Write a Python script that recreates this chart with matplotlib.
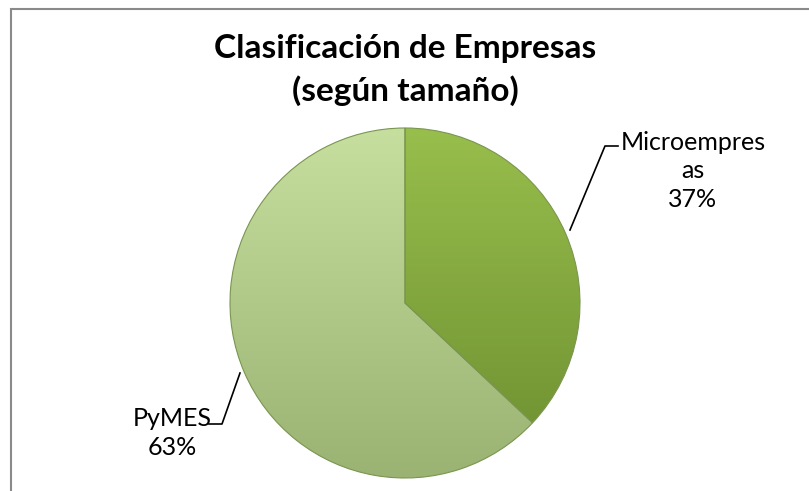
import numpy as np
import matplotlib
matplotlib.use("Agg")
import matplotlib.pyplot as plt
from matplotlib.colors import LinearSegmentedColormap
from matplotlib.patches import Rectangle

categories = ["Microempresas", "PyMES"]
values = [37, 63]
label_texts = ["Microempres\nas\n37%", "PyMES\n63%"]
title_text = "Clasificación de Empresas\n(según tamaño)"

top_colors = ["#98be4c", "#c6df9f"]
bottom_colors = ["#6c8e30", "#9ab272"]

W, H = 809, 491
fig = plt.figure(figsize=(W / 100, H / 100), dpi=100)
fig.patch.set_facecolor("white")

# outer chart border
fig.add_artist(Rectangle((11 / W, -0.1), 1.0, (H - 9) / H + 0.1,
                         transform=fig.transFigure, fill=False,
                         edgecolor="#8a8a8a", linewidth=1.5))

cx, cy, r = 405, 303, 175
ax = fig.add_axes([(cx - r) / W, (H - cy - r) / H, 2 * r / W, 2 * r / H])
ax.set_xlim(-1, 1)
ax.set_ylim(-1, 1)
ax.set_aspect("equal")
ax.axis("off")

wedges, _ = ax.pie(values, startangle=90, counterclock=False, radius=1.0,
                   colors=top_colors,
                   wedgeprops=dict(linewidth=0.8, edgecolor="#7a9550"))

grad = np.linspace(0, 1, 256).reshape(-1, 1)
for w, c0, c1 in zip(wedges, top_colors, bottom_colors):
    cmap = LinearSegmentedColormap.from_list("g", [c0, c1])
    im = ax.imshow(grad, cmap=cmap, extent=[-1, 1, -1, 1], origin="upper",
                   aspect="auto", zorder=w.get_zorder() + 0.1)
    im.set_clip_path(w)
    w.set_zorder(w.get_zorder() + 0.2)
    w.set_facecolor("none")
ax.set_xlim(-1, 1)
ax.set_ylim(-1, 1)

def d(px, py):
    return ((px - cx) / r, (cy - py) / r)

font = ["Lato", "DejaVu Sans"]

# leader lines
for pts in ([(618, 146), (605, 146), (570, 230)],
            [(209, 424), (222, 424), (240, 373)]):
    xs, ys = zip(*[d(*p) for p in pts])
    ax.plot(xs, ys, color="black", linewidth=1.2, clip_on=False, zorder=5)

lx, ly = d(693, 171)
ax.text(lx, ly, label_texts[0], ha="center", va="center", fontsize=18,
        family=font, linespacing=1.3, clip_on=False)
lx, ly = d(172, 433)
ax.text(lx, ly, label_texts[1], ha="center", va="center", fontsize=18,
        family=font, linespacing=1.3, clip_on=False)

fig.text(405 / W, 1 - 70 / H, title_text, ha="center", va="center",
         fontsize=24, fontweight="bold", family=font, linespacing=1.45)

fig.savefig("out.png", dpi=100, facecolor="white")
